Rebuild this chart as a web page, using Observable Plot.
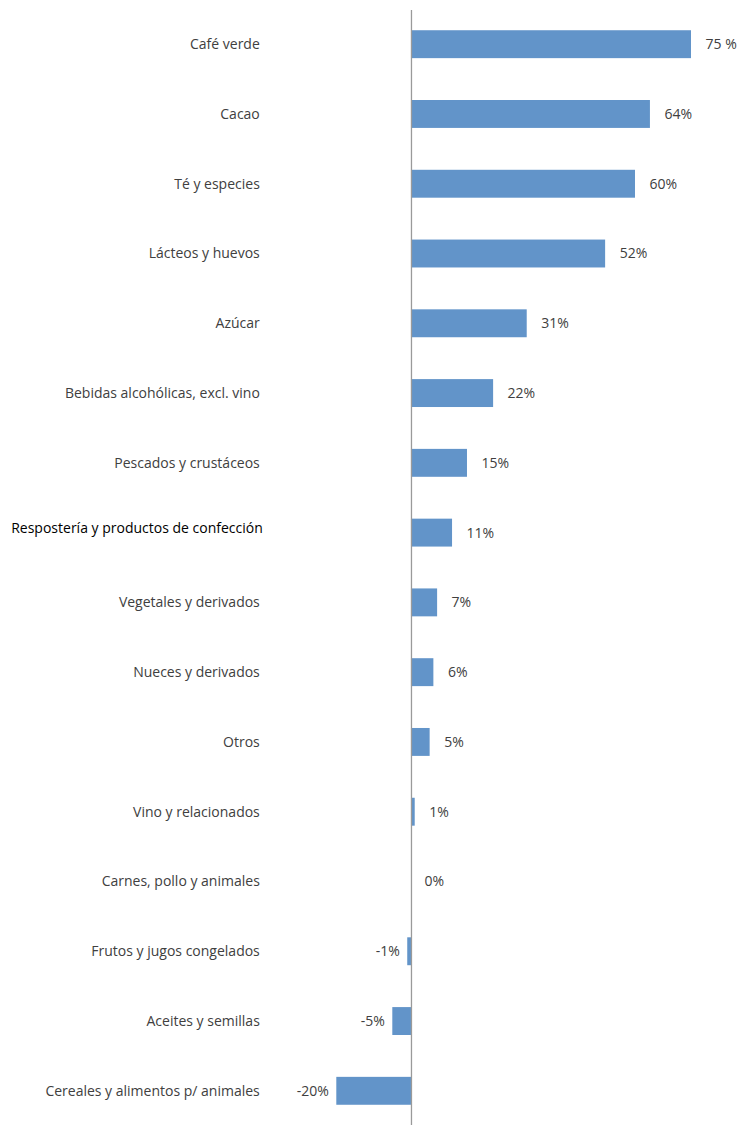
<!DOCTYPE html>
<html>
<head>
<meta charset="utf-8">
<script src="https://cdn.jsdelivr.net/npm/d3@7"></script>
<script src="https://cdn.jsdelivr.net/npm/@observablehq/plot@0.6"></script>
<style>
  html, body { margin: 0; padding: 0; background: #fff; }
  #chart svg { display: block; }
</style>
</head>
<body>
<div id="chart"></div>
<script>
const categories = [
  "Café verde",
  "Cacao",
  "Té y especies",
  "Lácteos y huevos",
  "Azúcar",
  "Bebidas alcohólicas, excl. vino",
  "Pescados y crustáceos",
  "Respostería y productos de confección",
  "Vegetales y derivados",
  "Nueces y derivados",
  "Otros",
  "Vino y relacionados",
  "Carnes, pollo y animales",
  "Frutos y jugos congelados",
  "Aceites y semillas",
  "Cereales y alimentos p/ animales"
];
const values = [75, 64, 60, 52, 31, 22, 15, 11, 7, 6, 5, 1, 0, -1, -5, -20];
const valueLabels = ["75 %", "64%", "60%", "52%", "31%", "22%", "15%", "11%", "7%", "6%", "5%", "1%", "0%", "-1%", "-5%", "-20%"];
const highlighted = ["Respostería y productos de confección"];

const data = categories.map((c, i) => ({cat: c, value: values[i], label: valueLabels[i]}));

const fontFamily = "'Open Sans', sans-serif";
const textColor = "#404040";

const chart = Plot.plot({
  width: 738,
  height: 1125,
  marginTop: 10,
  marginBottom: 0,
  marginLeft: 336.3,
  marginRight: 47,
  style: {fontFamily, fontSize: "14px", color: textColor, background: "#fff"},
  x: {domain: d3.extent(values), axis: null},
  y: {domain: categories, paddingInner: 0.6, paddingOuter: 0.29, round: false, axis: null},
  marks: [
    Plot.barX(data, {x: "value", y: "cat", fill: "#6294c9"}),
    Plot.ruleX([0], {stroke: "#9a9a9a", strokeWidth: 1.3}),
    // category labels
    Plot.text(data.filter(d => !highlighted.includes(d.cat)), {
      y: "cat", text: "cat", frameAnchor: "left", textAnchor: "end", dx: -77,
      fill: textColor, fontSize: 14
    }),
    Plot.text(data.filter(d => highlighted.includes(d.cat)), {
      y: "cat", text: "cat", frameAnchor: "left", textAnchor: "end", dx: -74, dy: -5,
      fill: "#000", fontSize: 14, fontWeight: 500
    }),
    // value labels
    Plot.text(data.filter(d => d.value > 0), {
      x: "value", y: "cat", text: "label", textAnchor: "start", dx: 14, fill: textColor, fontSize: 14
    }),
    Plot.text(data.filter(d => d.value === 0), {
      x: "value", y: "cat", text: "label", textAnchor: "start", dx: 13, fill: textColor, fontSize: 14
    }),
    Plot.text(data.filter(d => d.value < 0), {
      x: "value", y: "cat", text: "label", textAnchor: "end", dx: -8, fill: textColor, fontSize: 14
    })
  ]
});
document.getElementById("chart").appendChild(chart);
</script>
</body>
</html>
